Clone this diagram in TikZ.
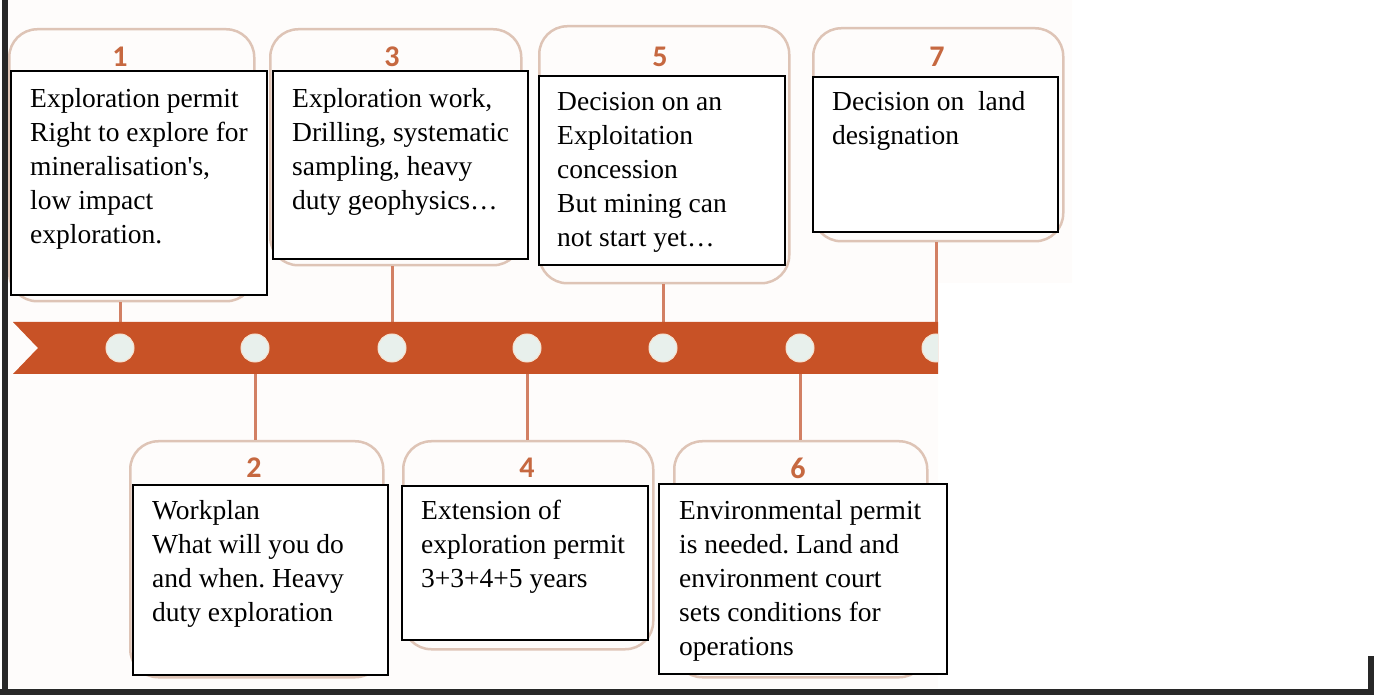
\documentclass[tikz,border=0pt]{standalone}
\usepackage{fontspec}
\setmainfont{Liberation Serif}
\newfontfamily\numfont{Carlito}
\definecolor{bandc}{RGB}{200,82,38}
\definecolor{outlc}{RGB}{222,196,182}
\definecolor{connc}{RGB}{210,128,100}
\definecolor{numc}{RGB}{198,104,64}
\definecolor{dotfill}{RGB}{232,240,236}
\definecolor{dotedge}{RGB}{246,226,208}
\definecolor{bordc}{RGB}{40,40,40}
\definecolor{bgc}{RGB}{254,252,251}
\begin{document}
\frenchspacing
\begin{tikzpicture}[x=1pt,y=-1pt]
\tikzset{
  outl/.style={draw=outlc, line width=2.5pt, rounded corners=28pt, inner sep=0pt, anchor=north west},
  blk/.style={draw=black, line width=1.6pt, fill=white, inner sep=0pt, anchor=north west},
  txt/.style={font=\fontsize{27.5}{34}\selectfont, align=left, inner sep=0pt, anchor=north west, text=black},
  num/.style={font=\numfont\bfseries\fontsize{30}{30}\selectfont, text=numc, inner sep=0pt},
  conn/.style={draw=connc, line width=3pt},
  dotc/.style={circle, fill=dotfill, draw=dotedge, line width=1pt, minimum size=28pt, inner sep=0pt},
  border/.style={draw=bordc, line width=6pt},
}
\useasboundingbox (0,0) rectangle (1377,700);
% background
\fill[bgc] (8,0) -- (1072,0) -- (1072,283) -- (938,283) -- (938,688) -- (8,688) -- cycle;
% rounded outlines
\node[outl, minimum width=245pt, minimum height=272pt] (o1) at (8,28) {};
\node[outl, minimum width=251pt, minimum height=236pt] (o3) at (269,28) {};
\node[outl, minimum width=250pt, minimum height=257pt] (o5) at (538,25) {};
\node[outl, minimum width=250pt, minimum height=213pt] (o7) at (812,27) {};
\node[outl, minimum width=253pt, minimum height=236pt] (o2) at (129,440) {};
\node[outl, minimum width=250pt, minimum height=208pt] (o4) at (402,440) {};
\node[outl, minimum width=253pt, minimum height=236pt] (o6) at (673,440) {};
% numbers
\node[num] (n1) at (120,57) {1};
\node[num] (n3) at (392,57) {3};
\node[num] (n5) at (660,57) {5};
\node[num] (n7) at (937,57) {7};
\node[num] (n2) at (254,468) {2};
\node[num] (n4) at (527,468) {4};
\node[num] (n6) at (798,468) {6};
% dot positions
\coordinate (d1) at (120,348);
\coordinate (d2) at (255,348);
\coordinate (d3) at (392,348);
\coordinate (d4) at (527,348);
\coordinate (d5) at (663,348);
\coordinate (d6) at (800,348);
\coordinate (d7) at (936,348);
% connectors
\draw[conn] (o1.south -| d1) -- (d1);
\draw[conn] (o3.south -| d3) -- (d3);
\draw[conn] (o5.south -| d5) -- (d5);
\draw[conn] (o7.south -| d7) -- (d7);
\draw[conn] (o2.north -| d2) -- (d2);
\draw[conn] (o4.north -| d4) -- (d4);
\draw[conn] (o6.north -| d6) -- (d6);
% band
\fill[bandc] (13,322) -- (938,322) -- (938,374) -- (13,374) -- (38,348) -- cycle;
\begin{scope}
\clip (0,0) rectangle (938,700);
\node[dotc] (c1) at (d1) {};
\node[dotc] (c2) at (d2) {};
\node[dotc] (c3) at (d3) {};
\node[dotc] (c4) at (d4) {};
\node[dotc] (c5) at (d5) {};
\node[dotc] (c6) at (d6) {};
\node[dotc] (c7) at (d7) {};
\end{scope}
% black boxes
\node[blk, minimum width=256pt, minimum height=224pt] (b1) at (10,70) {};
\node[blk, minimum width=255pt, minimum height=188pt] (b3) at (272,70) {};
\node[blk, minimum width=246pt, minimum height=189pt] (b5) at (538,75) {};
\node[blk, minimum width=245pt, minimum height=155pt] (b7) at (812,76) {};
\node[blk, minimum width=255pt, minimum height=190pt] (b2) at (132,484) {};
\node[blk, minimum width=246pt, minimum height=154pt] (b4) at (401,485) {};
\node[blk, minimum width=288pt, minimum height=190pt] (b6) at (658,483) {};
% texts
\node[txt] (t1) at (30,88) {Exploration permit\\Right to explore for\\mineralisation\textquotesingle s,\\low impact\\exploration.};
\node[txt] (t3) at (292,88) {Exploration work,\\Drilling, systematic\\sampling, heavy\\duty geophysics…};
\node[txt] (t5) at (557,92) {Decision on an\\Exploitation\\concession\\But mining can\\not start yet…};
\node[txt] (t7) at (832,91) {Decision on\ \ land\\designation};
\node[txt] (t2) at (152,500) {Workplan\\What will you do\\and when. Heavy\\duty exploration};
\node[txt] (t4) at (421,500) {Extension of\\exploration permit\\3+3+4+5 years};
\node[txt] (t6) at (679,500) {Environmental permit\\is needed. Land and\\environment court\\sets conditions for\\operations};
% borders
\draw[border] (5,0) -- (5,694);
\draw[border] (0,692) -- (1374,692);
\draw[border] (1371,656) -- (1371,695);
\end{tikzpicture}
\end{document}
